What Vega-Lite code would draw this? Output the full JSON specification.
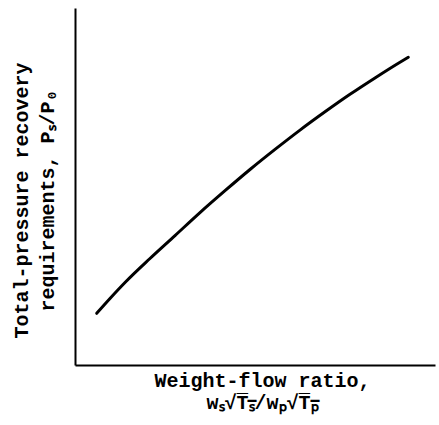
{
  "$schema": "https://vega.github.io/schema/vega-lite/v6.json",
  "autosize": "none",
  "padding": {"left": 75, "top": 8, "right": 4, "bottom": 52},
  "width": 360,
  "height": 357,
  "background": "white",
  "config": {
    "view": {"stroke": null},
    "axis": {
      "domainColor": "black",
      "domainWidth": 2,
      "ticks": false,
      "labels": false,
      "grid": false,
      "titleFont": "Courier New, Courier, Liberation Mono",
      "titleFontSize": 20,
      "titleFontWeight": "bold",
      "titleColor": "black"
    }
  },
  "data": {
    "values": [
      {"x": 0.603, "y": 1.448},
      {"x": 0.972, "y": 1.863},
      {"x": 1.389, "y": 2.311},
      {"x": 2.083, "y": 2.983},
      {"x": 2.778, "y": 3.625},
      {"x": 3.472, "y": 4.269},
      {"x": 4.167, "y": 4.882},
      {"x": 4.861, "y": 5.476},
      {"x": 5.556, "y": 6.039},
      {"x": 6.250, "y": 6.580},
      {"x": 6.944, "y": 7.092},
      {"x": 7.639, "y": 7.583},
      {"x": 8.333, "y": 8.042},
      {"x": 9.028, "y": 8.482},
      {"x": 9.258, "y": 8.619}
    ]
  },
  "mark": {"type": "line", "color": "black", "strokeWidth": 3, "strokeCap": "round", "interpolate": "monotone"},
  "encoding": {
    "x": {
      "field": "x",
      "type": "quantitative",
      "scale": {"domain": [0, 10], "nice": false, "zero": false},
      "axis": {
        "title": ["Weight-flow ratio,", "wₛ√T̅ₛ̅/wₚ√T̅ₚ̅"],
        "titleBaseline": "alphabetic",
        "titlePadding": 21,
        "titleLineHeight": 22,
        "titleX": 187,
        "titleAlign": "center"
      }
    },
    "y": {
      "field": "y",
      "type": "quantitative",
      "scale": {"domain": [0, 10], "nice": false, "zero": false},
      "axis": {
        "title": ["Total-pressure recovery", "requirements, Pₛ/P₀"],
        "titleBaseline": "alphabetic",
        "titlePadding": 22,
        "titleLineHeight": 26,
        "titleY": 192,
        "titleAlign": "center",
        "titleAngle": -90
      }
    }
  }
}
